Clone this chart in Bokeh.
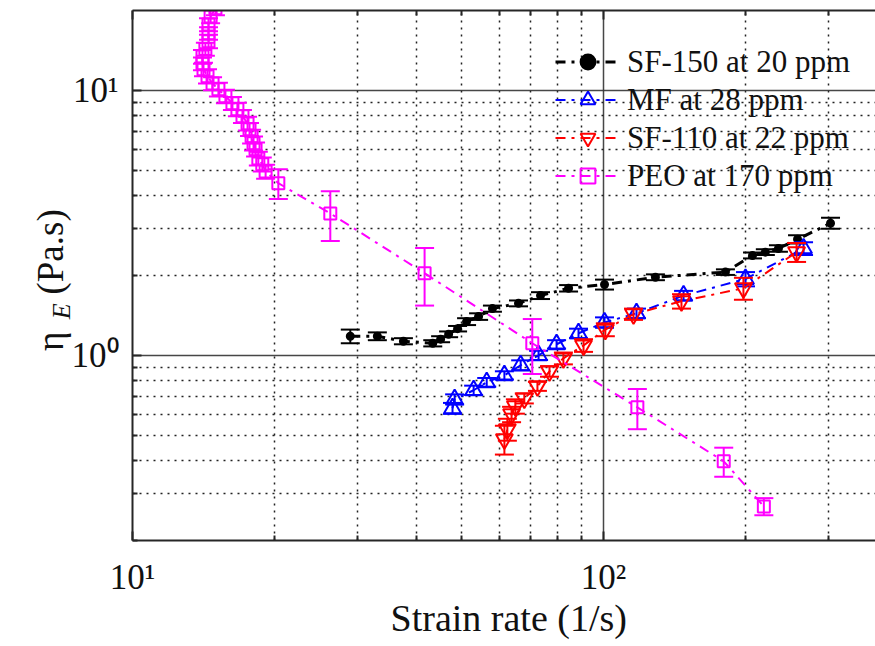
import math
from bokeh.plotting import figure
from bokeh.models import (ColumnDataSource, Legend, LegendItem, FixedTicker, LogAxis)
from bokeh.embed import file_html
from bokeh.resources import INLINE

# ---------------- data ----------------
sf150_rate = [29.0, 33.1, 37.6, 43.4, 45.1, 46.9, 49.0, 51.2, 54.3, 58.1, 66.0,
              73.5, 84.3, 100.5, 128.9, 181.5, 207.2, 220.6, 235.2, 258.2, 303.4]
sf150_eta = [1.18, 1.18, 1.13, 1.11, 1.15, 1.20, 1.26, 1.34, 1.40, 1.50, 1.57,
             1.68, 1.79, 1.85, 1.97, 2.06, 2.38, 2.45, 2.53, 2.74, 3.15]
sf150_err = [0.07, 0.04, 0.03, 0.03, 0.03, 0.03, 0.03, 0.04, 0.04, 0.04, 0.04,
             0.05, 0.05, 0.08, 0.05, 0.05, 0.06, 0.06, 0.07, 0.10, 0.15]

mf_rate = [47.8, 48.3, 53.0, 56.5, 61.6, 66.7, 72.8, 79.5, 88.5, 100.5, 117.5, 147.9, 200.2, 265.9]
mf_eta = [0.631, 0.682, 0.738, 0.791, 0.840, 0.917, 1.00, 1.10, 1.21, 1.33, 1.44, 1.68, 1.94, 2.53]
mf_err = [0.03, 0.03, 0.03, 0.03, 0.03, 0.04, 0.04, 0.04, 0.05, 0.06, 0.06, 0.07, 0.12, 0.14]

sf110_rate = [61.6, 62.5, 63.8, 65.0, 67.9, 72.4, 76.8, 82.2, 90.7, 100.9, 115.8, 146.4, 198.2, 257.0]
sf110_eta = [0.482, 0.526, 0.599, 0.642, 0.688, 0.764, 0.870, 0.974, 1.09, 1.25, 1.43, 1.60, 1.79, 2.45]
sf110_err = [0.06, 0.05, 0.04, 0.04, 0.03, 0.03, 0.04, 0.05, 0.06, 0.07, 0.07, 0.10, 0.17, 0.20]

peo_rate = [15.0, 14.65, 14.5, 14.5, 14.5, 14.28, 14.08, 14.08, 14.15, 14.43, 14.79,
            15.22, 15.75, 16.3, 16.7, 17.12, 17.55, 17.72, 17.9, 18.07, 18.25, 18.5,
            18.86, 19.17, 20.4, 26.3, 41.7, 70.6, 118.0, 180.0, 219.0]
peo_eta = [20.4, 19.0, 17.7, 16.4, 15.3, 14.3, 13.4, 12.6, 12.0, 11.3, 10.6,
           10.08, 9.49, 8.93, 8.48, 7.98, 7.50, 7.12, 6.70, 6.31, 5.99, 5.53,
           5.26, 4.94, 4.46, 3.43, 2.04, 1.11, 0.636, 0.398, 0.269]
peo_err = [1.2, 1.1, 1.0, 0.9, 0.9, 0.8, 0.8, 0.7, 0.7, 0.7, 0.6,
           0.6, 0.55, 0.5, 0.5, 0.45, 0.45, 0.4, 0.4, 0.38, 0.36, 0.33,
           0.32, 0.3, 0.57, 0.73, 0.50, 0.26, 0.11, 0.05, 0.02]

series_labels = ["SF-150 at 20 ppm", "MF at 28 ppm", "SF-110 at 22 ppm", "PEO at 170 ppm"]

x_major = [10, 100]
x_major_labels = ["10\u00b9", "10\u00b2"]
x_minor = [20, 30, 40, 50, 60, 70, 80, 90, 200, 300]
y_major = [1, 10]
y_major_labels = ["10\u2070", "10\u00b9"]
y_minor = [0.2, 0.3, 0.4, 0.5, 0.6, 0.7, 0.8, 0.9, 2, 3, 4, 5, 6, 7, 8, 9]

NB = "\u00a0"
x_label = NB + "Strain rate (1/s)"
y_label_sub = "E" + NB * 11                          # subscript of eta, sits below centre
y_label_main = NB + "η" + NB * 4 + "(Pa.s)" + NB * 2  # eta ... (Pa.s)

# ---------------- figure ----------------
FONT = "Liberation Serif"
AX = "#262626"
TXT = "#111111"

p = figure(width=875, height=646, x_axis_type="log", y_axis_type="log",
           x_range=(10, 378), y_range=(0.2, 20),
           output_backend="svg", toolbar_location=None,
           min_border_left=132, min_border_right=0, min_border_top=10, min_border_bottom=106)
p.outline_line_color = None
p.background_fill_color = "white"
p.border_fill_color = "white"

def style_axis(ax):
    ax.axis_line_color = AX
    ax.axis_line_width = 2
    ax.major_tick_line_color = AX
    ax.major_tick_line_width = 2
    ax.minor_tick_line_color = AX
    ax.minor_tick_line_width = 2
    ax.major_tick_in = 9
    ax.major_tick_out = 0
    ax.minor_tick_in = 5
    ax.minor_tick_out = 0
    ax.major_label_text_font = FONT
    ax.major_label_text_font_size = "35px"
    ax.major_label_text_color = TXT

p.xaxis.ticker = FixedTicker(ticks=x_major, minor_ticks=x_minor)
p.yaxis.ticker = FixedTicker(ticks=y_major, minor_ticks=y_minor)
style_axis(p.xaxis[0])
style_axis(p.yaxis[0])
p.xaxis.major_label_overrides = dict(zip(x_major, x_major_labels))
p.yaxis.major_label_overrides = dict(zip(y_major, y_major_labels))
p.xaxis.major_label_standoff = 17
p.yaxis.major_label_standoff = 14

p.xaxis.axis_label = x_label
p.xaxis.axis_label_text_font = FONT
p.xaxis.axis_label_text_font_size = "38px"
p.xaxis.axis_label_text_font_style = "normal"
p.xaxis.axis_label_text_color = TXT
p.xaxis.axis_label_standoff = -3

# subscript "E" as the y-axis label
p.yaxis.axis_label = y_label_sub
p.yaxis.axis_label_text_font = FONT
p.yaxis.axis_label_text_font_size = "26px"
p.yaxis.axis_label_text_font_style = "italic"
p.yaxis.axis_label_text_color = TXT
p.yaxis.axis_label_standoff = -7

# "η  (Pa.s)" on a bare extra axis, pulled back over the subscript column
yl = LogAxis(ticker=FixedTicker(ticks=[], minor_ticks=[]))
yl.axis_line_color = None
yl.major_tick_line_color = None
yl.minor_tick_line_color = None
yl.major_label_text_font_size = "1px"
yl.major_label_text_alpha = 0
yl.major_label_standoff = 0
yl.axis_label = y_label_main
yl.axis_label_text_font = FONT
yl.axis_label_text_font_size = "37px"
yl.axis_label_text_font_style = "normal"
yl.axis_label_text_color = TXT
yl.axis_label_standoff = -27
p.add_layout(yl, "left")

top = LogAxis(ticker=FixedTicker(ticks=x_major, minor_ticks=x_minor))
style_axis(top)
top.major_label_text_font_size = "1px"
top.major_label_text_alpha = 0
top.major_label_standoff = 0
p.add_layout(top, "above")

for g in (p.xgrid[0], p.ygrid[0]):
    g.grid_line_color = "#333333"
    g.grid_line_width = 1.5
    g.grid_line_alpha = 0.9
    g.minor_grid_line_color = "#222222"
    g.minor_grid_line_width = 1.5
    g.minor_grid_line_dash = "2 5"

DASH = "10 6 3 6"

def add_series(rate, eta, err, color, marker, msize, lw, label, fill=None):
    lo = [e - d for e, d in zip(eta, err)]
    hi = [e + d for e, d in zip(eta, err)]
    src = ColumnDataSource(dict(x=rate, y=eta, lo=lo, hi=hi))
    ln = p.line("x", "y", source=src, line_color=color, line_width=lw, line_dash=DASH)
    p.segment(x0="x", y0="lo", x1="x", y1="hi", source=src, line_color=color, line_width=2)
    p.scatter("x", "lo", source=src, marker="dash", size=19, line_color=color, line_width=2)
    p.scatter("x", "hi", source=src, marker="dash", size=19, line_color=color, line_width=2)
    mk = p.scatter("x", "y", source=src, marker=marker, size=msize, line_color=color,
                   line_width=2, fill_color=fill if fill else "white", fill_alpha=1.0 if fill else 0)
    return LegendItem(label=label, renderers=[ln, mk])

items = [
    add_series(sf150_rate, sf150_eta, sf150_err, "black", "circle", 7, 3, series_labels[0], fill="black"),
    add_series(mf_rate, mf_eta, mf_err, "blue", "triangle", 17, 2, series_labels[1]),
    add_series(sf110_rate, sf110_eta, sf110_err, "red", "inverted_triangle", 17, 2, series_labels[2]),
    add_series(peo_rate, peo_eta, peo_err, "magenta", "square", 12, 2, series_labels[3]),
]

legend = Legend(items=items, location=(423, 346), orientation="vertical",
                border_line_color=None, background_fill_alpha=0,
                label_text_font=FONT, label_text_font_size="31px", label_text_color=TXT,
                glyph_width=65, glyph_height=37, label_height=37,
                spacing=1, padding=0, margin=0, label_standoff=7)
p.add_layout(legend)

open("out.html", "w").write(file_html(p, INLINE))
